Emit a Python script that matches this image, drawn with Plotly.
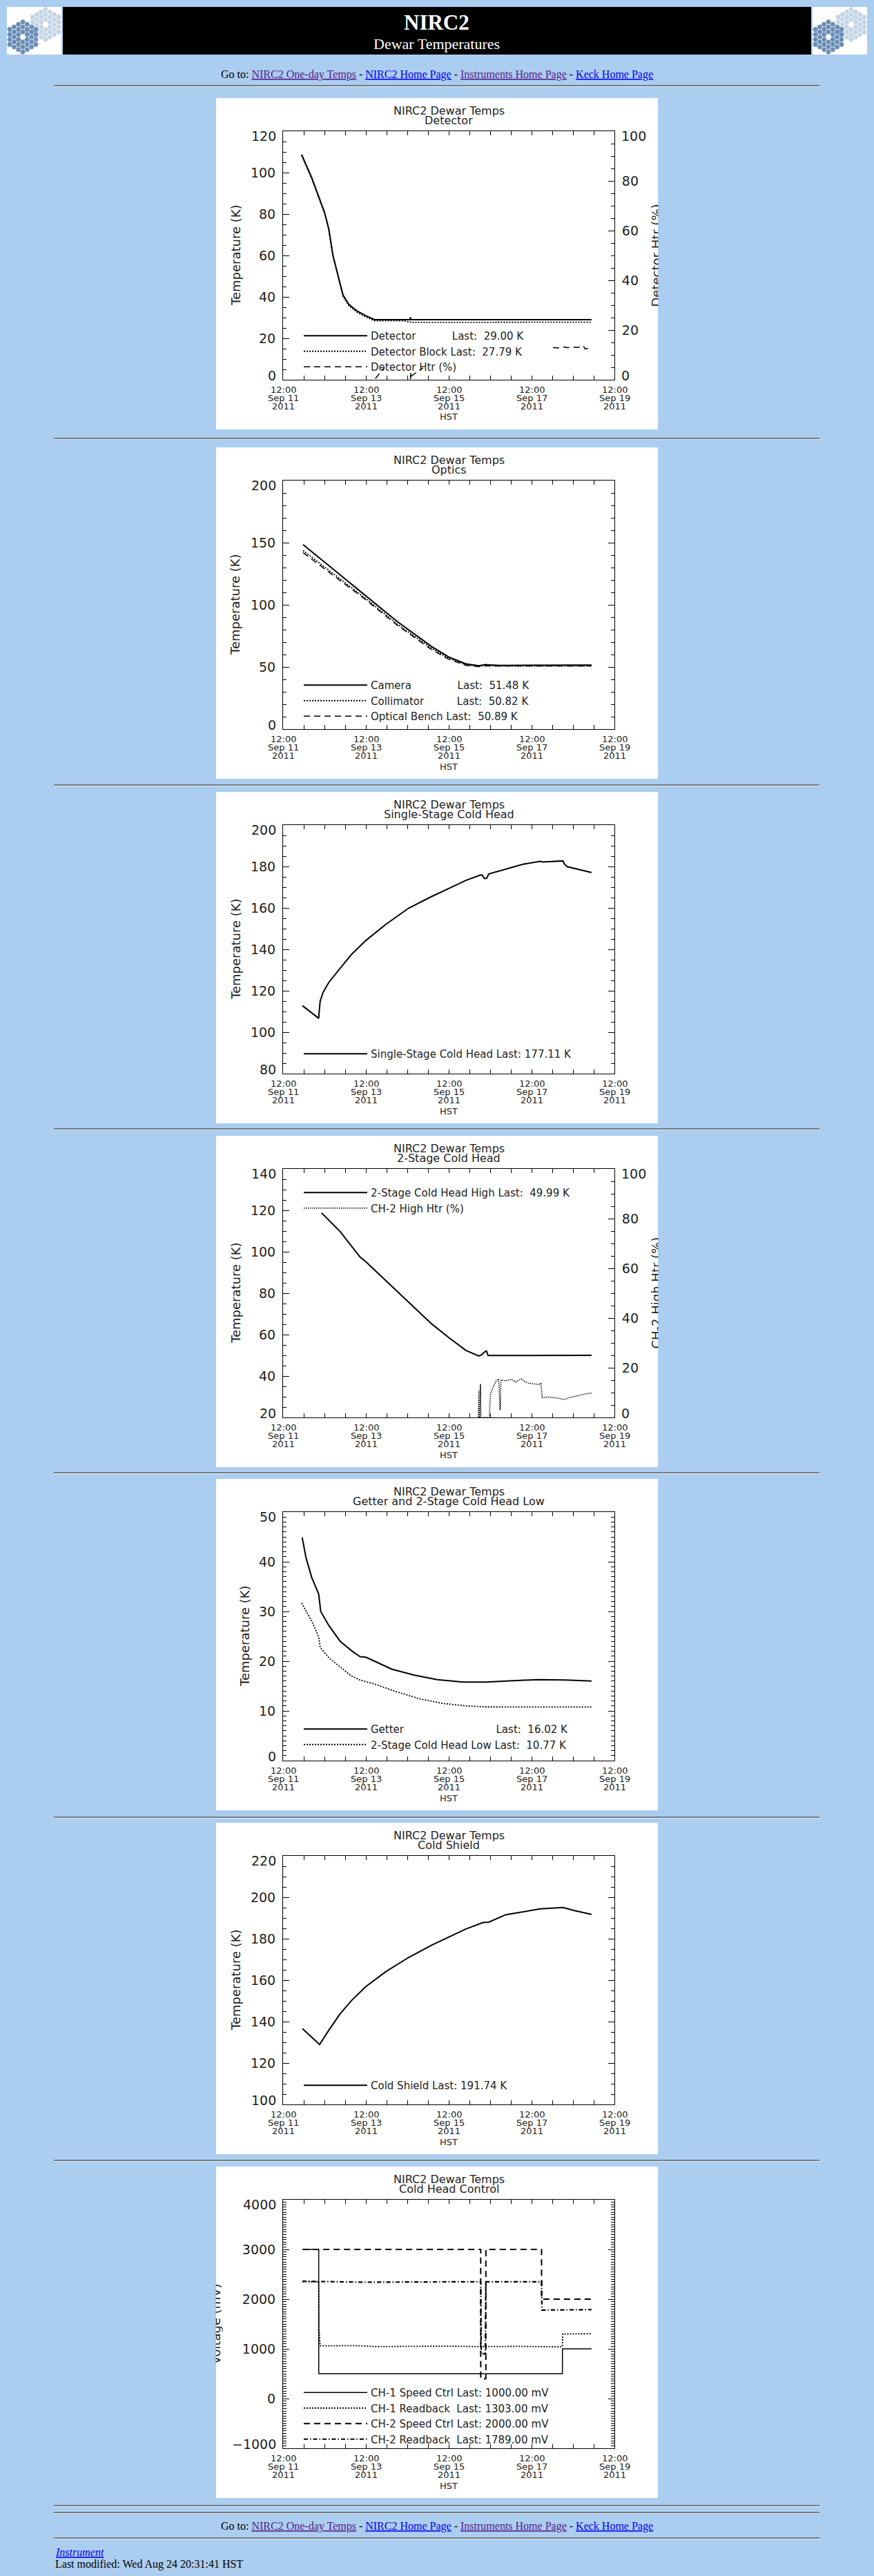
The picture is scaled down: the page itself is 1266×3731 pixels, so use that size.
import math
import plotly.graph_objects as go

W, H = 1266, 3731
BG = "#ABCDEF"
FONT = "DejaVu Sans"
SERIF = "Liberation Serif"
TXT = "#222222"
NB = "\u00a0"

def px(x):
    return x / W

def py(y):
    return 1 - y / H

# ---------------- data ----------------
X_RANGE = ["2011-09-11 12:00", "2011-09-19 12:00"]
XTICK_VALS = ["2011-09-11 12:00", "2011-09-12 00:00", "2011-09-12 12:00", "2011-09-13 00:00",
              "2011-09-13 12:00", "2011-09-14 00:00", "2011-09-14 12:00", "2011-09-15 00:00",
              "2011-09-15 12:00", "2011-09-16 00:00", "2011-09-16 12:00", "2011-09-17 00:00",
              "2011-09-17 12:00", "2011-09-18 00:00", "2011-09-18 12:00", "2011-09-19 00:00",
              "2011-09-19 12:00"]
XLABEL_DATES = ["2011-09-11 12:00", "2011-09-13 12:00", "2011-09-15 12:00",
                "2011-09-17 12:00", "2011-09-19 12:00"]
XLABEL_TIME = ["12:00", "12:00", "12:00", "12:00", "12:00"]
XLABEL_DAY = ["Sep 11", "Sep 13", "Sep 15", "Sep 17", "Sep 19"]
XLABEL_YEAR = ["2011", "2011", "2011", "2011", "2011"]

# y tick values per panel (left axes), and the right heater axes
Y_TICKS = [[0, 20, 40, 60, 80, 100, 120],
           [0, 50, 100, 150, 200],
           [80, 100, 120, 140, 160, 180, 200],
           [20, 40, 60, 80, 100, 120, 140],
           [0, 10, 20, 30, 40, 50],
           [100, 120, 140, 160, 180, 200, 220],
           [-1000, 0, 1000, 2000, 3000, 4000]]
Y_MINOR = [5, 10, 5, 5, 1, 5, 50]
HTR_TICKS = [0, 20, 40, 60, 80, 100]

# Panel 1: Detector
DET_TIME = ["2011-09-11 22:45", "2011-09-12 04:33", "2011-09-12 12:00", "2011-09-12 14:29",
            "2011-09-12 16:58", "2011-09-12 22:45",
            "2011-09-13 02:04", "2011-09-13 07:02", "2011-09-13 12:00", "2011-09-13 17:00",
            "2011-09-14 13:30", "2011-09-14 13:50", "2011-09-14 14:10", "2011-09-18 22:45"]
DET_TEMP = [108.7, 97.7, 80.9, 72.9, 59.8, 40.9, 36.4, 33.1, 30.9, 29.0, 29.0, 30.2, 29.0, 29.0]
BLK_TIME = ["2011-09-11 22:45", "2011-09-12 04:33", "2011-09-12 12:00", "2011-09-12 14:29",
            "2011-09-12 16:58", "2011-09-12 22:45",
            "2011-09-13 02:04", "2011-09-13 07:02", "2011-09-13 12:00", "2011-09-13 17:00",
            "2011-09-14 09:30", "2011-09-14 14:30", "2011-09-18 22:45"]
BLK_TEMP = [108.3, 97.2, 80.4, 72.4, 59.3, 40.3, 35.8, 32.5, 30.3, 28.5, 28.5, 27.7, 27.79]
DHTR_TIME = ["2011-09-13 17:30", "2011-09-13 22:45", None,
             "2011-09-14 13:50", "2011-09-14 14:00", "2011-09-14 14:20", "2011-09-14 21:06", None,
             "2011-09-18 00:24", "2011-09-18 03:00", "2011-09-18 06:00", "2011-09-18 09:00",
             "2011-09-18 12:00", "2011-09-18 15:00", "2011-09-18 18:00", "2011-09-18 19:00",
             "2011-09-18 22:45"]
DHTR_PCT = [0.5, 4.8, None, 0.2, 3.0, 1.5, 4.8, None,
            13.0, 12.8, 13.2, 12.9, 13.1, 13.0, 13.6, 12.4, 12.9]

# Panel 2: Optics
OPT_TIME = ["2011-09-11 23:35", "2011-09-12 12:00", "2011-09-12 21:06", "2011-09-13 12:00",
            "2011-09-14 06:12", "2011-09-15 02:04", "2011-09-15 12:00", "2011-09-15 21:56",
            "2011-09-16 05:23", "2011-09-16 07:52", "2011-09-16 09:31", "2011-09-16 11:10",
            "2011-09-16 17:47", "2011-09-18 22:45"]
CAMERA = [148.5, 134.4, 124.5, 107.2, 86.5, 66.5, 58.0, 52.5, 51.0, 51.6, 52.0, 51.6, 51.3, 51.48]
COLLIM = [143.7, 130.5, 121.0, 105.0, 84.5, 65.0, 57.0, 51.8, 50.5, 50.9, 51.2, 50.9, 50.8, 50.82]
BENCH = [142.0, 129.0, 119.5, 104.0, 83.5, 64.0, 56.2, 51.3, 50.3, 50.8, 51.0, 50.8, 50.9, 50.89]

# Panel 3: Single-stage cold head
SS_TIME = ["2011-09-11 23:15", "2011-09-12 08:40", "2011-09-12 09:00", "2011-09-12 09:31",
           "2011-09-12 11:10", "2011-09-12 14:29", "2011-09-12 21:06", "2011-09-13 03:43",
           "2011-09-13 12:00", "2011-09-13 23:35", "2011-09-14 12:50", "2011-09-15 02:04",
           "2011-09-15 12:00", "2011-09-15 21:56", "2011-09-16 06:12", "2011-09-16 07:20",
           "2011-09-16 08:41", "2011-09-16 10:00", "2011-09-16 11:10", "2011-09-16 21:06",
           "2011-09-17 07:02", "2011-09-17 16:58", "2011-09-17 18:37", "2011-09-18 06:12",
           "2011-09-18 07:01", "2011-09-18 08:41", "2011-09-18 22:45"]
SS_TEMP = [112.8, 106.7, 110.5, 115.0, 119.2, 124.0, 130.9, 137.6, 144.3, 152.1, 159.9, 165.5,
           169.4, 173.3, 175.8, 175.9, 174.2, 174.3, 176.4, 178.8, 181.1, 182.5, 182.2, 182.7,
           181.2, 179.9, 177.11]

# Panel 4: 2-stage cold head
CH2H_TIME = ["2011-09-12 10:20", "2011-09-12 21:06", "2011-09-13 08:41", "2011-09-13 12:00",
             "2011-09-14 06:12", "2011-09-15 02:04", "2011-09-15 12:00", "2011-09-15 21:56",
             "2011-09-16 05:23", "2011-09-16 07:02", "2011-09-16 08:41", "2011-09-16 09:50",
             "2011-09-16 10:50", "2011-09-18 22:45"]
CH2H_TEMP = [118.8, 109.7, 97.4, 95.2, 80.8, 65.2, 58.6, 52.4, 49.7, 50.2, 51.6, 52.1, 49.9, 49.99]
CH2HTR_TIME = ["2011-09-16 05:06", "2011-09-16 05:30", "2011-09-16 05:36", "2011-09-16 06:05",
               "2011-09-16 06:22", "2011-09-16 06:42", "2011-09-16 11:30", "2011-09-16 12:10",
               "2011-09-16 13:38", "2011-09-16 15:17", "2011-09-16 16:56", "2011-09-16 17:47",
               "2011-09-16 18:17", "2011-09-16 21:06", "2011-09-17 00:25", "2011-09-17 02:53",
               "2011-09-17 04:33", "2011-09-17 06:12", "2011-09-17 07:51", "2011-09-17 10:20",
               "2011-09-17 13:38", "2011-09-17 16:58", "2011-09-17 17:28", "2011-09-17 18:08",
               "2011-09-17 21:56", "2011-09-18 02:54", "2011-09-18 07:01", "2011-09-18 09:31",
               "2011-09-18 14:29", "2011-09-18 19:26", "2011-09-18 22:45"]
CH2HTR_PCT = [0, 11.0, 0, 0, 13.5, 0, 0, 9.5, 12.0, 14.5, 15.5, 3.0, 15.0, 14.8, 15.3, 14.2,
              15.0, 15.5, 14.5, 13.8, 13.5, 13.3, 14.0, 8.0, 8.2, 7.8, 7.2, 7.9, 8.7, 9.5, 9.8]

# Panel 5: Getter and 2-stage cold head low
GET_TIME = ["2011-09-11 23:05", "2011-09-12 01:15", "2011-09-12 04:33", "2011-09-12 08:40",
            "2011-09-12 09:50", "2011-09-12 14:29", "2011-09-12 21:06", "2011-09-13 03:43",
            "2011-09-13 08:41", "2011-09-13 12:00", "2011-09-13 17:00", "2011-09-14 02:54",
            "2011-09-14 16:08", "2011-09-15 05:22", "2011-09-15 20:17", "2011-09-16 09:31",
            "2011-09-17 03:43", "2011-09-17 15:18", "2011-09-18 07:51", "2011-09-18 22:45"]
GET_TEMP = [44.9, 40.9, 36.9, 33.5, 30.0, 27.2, 24.0, 22.1, 20.9, 20.8, 20.0, 18.4, 17.2, 16.3,
            15.8, 15.8, 16.1, 16.3, 16.2, 16.02]
CH2L_TIME = ["2011-09-11 22:45", "2011-09-12 04:33", "2011-09-12 08:40", "2011-09-12 09:31",
             "2011-09-12 14:29", "2011-09-12 21:06", "2011-09-13 03:43", "2011-09-13 08:41",
             "2011-09-13 17:00", "2011-09-14 06:12", "2011-09-14 19:26", "2011-09-15 08:41",
             "2011-09-15 21:56", "2011-09-16 09:31", "2011-09-18 22:45"]
CH2L_TEMP = [31.7, 28.1, 24.9, 22.8, 20.7, 18.9, 17.0, 16.2, 15.4, 13.8, 12.4, 11.5, 11.0, 10.8, 10.77]

# Panel 6: Cold shield
CS_TIME = ["2011-09-11 23:15", "2011-09-12 09:11", "2011-09-12 14:29", "2011-09-12 21:06",
           "2011-09-13 03:43", "2011-09-13 12:00", "2011-09-13 23:35", "2011-09-14 12:50",
           "2011-09-15 02:04", "2011-09-15 12:00", "2011-09-15 21:56", "2011-09-16 07:52",
           "2011-09-16 11:10", "2011-09-16 21:06", "2011-09-17 07:02", "2011-09-17 16:58",
           "2011-09-18 06:12", "2011-09-18 12:50", "2011-09-18 22:45"]
CS_TEMP = [136.6, 128.9, 135.8, 143.8, 150.2, 156.9, 164.1, 171.0, 176.9, 180.8, 184.7, 187.8,
           188.0, 191.6, 193.0, 194.4, 195.1, 193.6, 191.74]

# Panel 7: Cold head control
CH1S_TIME = ["2011-09-11 23:15", "2011-09-12 08:40", "2011-09-12 08:41", "2011-09-18 05:52",
             "2011-09-18 05:53", "2011-09-18 22:45"]
CH1S_MV = [3000, 3000, 500, 500, 1000, 1000]
CH1R_TIME = ["2011-09-11 23:15", "2011-09-12 08:40", "2011-09-12 08:50", "2011-09-12 09:30",
             "2011-09-13 06:00", "2011-09-13 18:00", "2011-09-14 12:00", "2011-09-15 12:00",
             "2011-09-16 06:00", "2011-09-17 06:00", "2011-09-18 05:00", "2011-09-18 05:52",
             "2011-09-18 06:00", "2011-09-18 22:45"]
CH1R_MV = [2350, 2350, 1380, 1060, 1065, 1045, 1050, 1055, 1045, 1050, 1040, 1050, 1300, 1303]
CH2S_TIME = ["2011-09-11 23:15", "2011-09-16 06:32", "2011-09-16 06:33", "2011-09-16 09:30",
             "2011-09-16 09:31", "2011-09-17 17:47", "2011-09-17 17:48", "2011-09-18 22:45"]
CH2S_MV = [3000, 3000, 400, 400, 3000, 3000, 2000, 2000]
CH2R_TIME = ["2011-09-11 23:15", "2011-09-12 12:00", "2011-09-13 12:00", "2011-09-14 12:00",
             "2011-09-15 12:00", "2011-09-16 06:32", "2011-09-16 06:50", "2011-09-16 09:10",
             "2011-09-16 09:31", "2011-09-17 00:00", "2011-09-17 17:47", "2011-09-17 18:00",
             "2011-09-18 22:45"]
CH2R_MV = [2360, 2355, 2340, 2345, 2350, 2350, 900, 900, 2350, 2350, 2350, 1780, 1789]

TITLES = ["Detector", "Optics", "Single-Stage Cold Head", "2-Stage Cold Head",
          "Getter and 2-Stage Cold Head Low", "Cold Shield", "Cold Head Control"]

# ---------------- geometry ----------------
PANEL_TOPS = [142, 648, 1147, 1645, 2142, 2640, 3138]
IMG_X0, IMG_X1 = 313, 953
PX0, PX1 = 410, 890
PY0, PY1 = 48, 408
LEG_TOPS = [470, 976, 1510, 1711, 2488, 3004, 3449]
YTITLE_X = [341, 341, 341, 341, 354, 341, None]

SOLID = dict(color="black", width=2)
DOT = dict(color="black", width=1.8, dash="2px,2px")
DASH = dict(color="black", width=1.5, dash="9px,6px")
DASHDOT = dict(color="black", width=2.2, dash="6px,3px,1.5px,3px")

fig = go.Figure()

def ax(i):
    return ("" if i == 1 else str(i))

def add(i, x, y, name, line, yref=None):
    fig.add_trace(go.Scatter(
        x=x, y=y, mode="lines", name=name, line=line,
        xaxis="x" + ax(i), yaxis=yref or ("y" + ax(i)),
        legend="legend" + ax(i), connectgaps=False, hoverinfo="skip"))

add(1, DET_TIME, DET_TEMP, "Detector" + NB * 11 + "Last:" + NB * 2 + "29.00 K", SOLID)
add(1, BLK_TIME, BLK_TEMP, "Detector Block" + NB + "Last:" + NB * 2 + "27.79 K", DOT)
add(1, DHTR_TIME, DHTR_PCT, "Detector Htr (%)", DASH, yref="y8")

add(2, OPT_TIME, CAMERA, "Camera" + NB * 14 + "Last:" + NB * 2 + "51.48 K", SOLID)
add(2, OPT_TIME, COLLIM, "Collimator" + NB * 10 + "Last:" + NB * 2 + "50.82 K", DOT)
add(2, OPT_TIME, BENCH, "Optical Bench" + NB + "Last:" + NB * 2 + "50.89 K", DASH)

add(3, SS_TIME, SS_TEMP, "Single-Stage Cold Head Last: 177.11 K", SOLID)

add(4, CH2H_TIME, CH2H_TEMP, "2-Stage Cold Head High Last:" + NB * 2 + "49.99 K", SOLID)
add(4, CH2HTR_TIME, CH2HTR_PCT, "CH-2 High Htr (%)", dict(color="black", width=1.5, dash="1.5px,1.5px"), yref="y9")

add(5, GET_TIME, GET_TEMP, "Getter" + NB * 28 + "Last:" + NB * 2 + "16.02 K", SOLID)
add(5, CH2L_TIME, CH2L_TEMP, "2-Stage Cold Head Low Last:" + NB * 2 + "10.77 K", DOT)

add(6, CS_TIME, CS_TEMP, "Cold Shield Last: 191.74 K", SOLID)

add(7, CH1S_TIME, CH1S_MV, "CH-1 Speed Ctrl Last: 1000.00 mV", dict(color="black", width=1.5))
add(7, CH1R_TIME, CH1R_MV, "CH-1 Readback" + NB * 2 + "Last: 1303.00 mV", DOT)
add(7, CH2S_TIME, CH2S_MV, "CH-2 Speed Ctrl Last: 2000.00 mV", dict(color="black", width=2, dash="9px,6px"))
add(7, CH2R_TIME, CH2R_MV, "CH-2 Readback" + NB * 2 + "Last: 1789.00 mV", DASHDOT)

layout = dict(
    width=W, height=H, margin=dict(l=0, r=0, t=0, b=0, pad=0),
    paper_bgcolor=BG, plot_bgcolor="rgba(0,0,0,0)",
    showlegend=True, font=dict(family=FONT, color=TXT),
)

shapes = []
annotations = []

def fmt(v):
    return ("\u2212" + str(-v)) if v < 0 else str(v)

def y_axis(ticks, minor, yname, xname, side="left", mirror="ticks", domain=None, overlay=None):
    # interior labels drawn by the axis; the two end labels are nudged inward (as in IDL)
    text = [""] + [fmt(v) for v in ticks[1:-1]] + [""]
    d = dict(range=[ticks[0], ticks[-1]], tickmode="array", tickvals=ticks, ticktext=text,
             ticks="inside", ticklen=9, tickwidth=1, tickcolor="black",
             showline=True, linecolor="black", linewidth=1, mirror=mirror,
             showgrid=False, zeroline=False, fixedrange=True, side=side,
             tickfont=dict(family=FONT, size=19, color=TXT), ticklabelstandoff=6,
             minor=dict(dtick=minor, tick0=ticks[0], tickmode="linear", ticks="inside",
                        ticklen=5, tickwidth=1, tickcolor="black", showgrid=False),
             anchor=xname)
    if domain is not None:
        d["domain"] = domain
    if overlay:
        d["overlaying"] = overlay
    xpos = px(402) if side == "left" else px(898)
    xa = "right" if side == "left" else "left"
    for v, shift in ((ticks[0], 6), (ticks[-1], -7)):
        annotations.append(dict(text=fmt(v), x=xpos, xref="paper", y=v, yref=yname,
                                yshift=shift, showarrow=False, xanchor=xa, yanchor="middle",
                                font=dict(family=FONT, size=19, color=TXT)))
    return d

for k in range(7):
    i = k + 1
    top = PANEL_TOPS[k]
    ydom = [py(top + PY1), py(top + PY0)]
    layout["xaxis" + ax(i)] = dict(
        domain=[px(PX0), px(PX1)], anchor="y" + ax(i), type="date", range=X_RANGE,
        tickmode="array", tickvals=XTICK_VALS, showticklabels=False,
        ticks="inside", ticklen=6, tickwidth=1, tickcolor="black",
        showline=True, linecolor="black", linewidth=1, mirror="ticks",
        showgrid=False, zeroline=False, fixedrange=True)
    has_right = i in (1, 4)
    layout["yaxis" + ax(i)] = y_axis(Y_TICKS[k], Y_MINOR[k], "y" + ax(i), "x" + ax(i),
                                     mirror=(False if has_right else "ticks"), domain=ydom)
    # date tick labels: three tight lines under each labelled tick
    for d, t1, t2, t3 in zip(XLABEL_DATES, XLABEL_TIME, XLABEL_DAY, XLABEL_YEAR):
        for j, t in enumerate((t1, t2, t3)):
            annotations.append(dict(text=t, x=d, xref="x" + ax(i), y=py(top + 422.5 + 12 * j),
                                    yref="paper", showarrow=False,
                                    font=dict(family=FONT, size=13, color=TXT),
                                    xanchor="center", yanchor="middle"))
    # white image box
    shapes.append(dict(type="rect", xref="paper", yref="paper", layer="below",
                       x0=px(IMG_X0), x1=px(IMG_X1), y0=py(top + 480), y1=py(top),
                       fillcolor="white", line=dict(width=0)))
    cx = px((PX0 + PX1) / 2)
    annotations.append(dict(text="NIRC2 Dewar Temps", x=cx, y=py(top + 18.5), xref="paper", yref="paper",
                            showarrow=False, font=dict(family=FONT, size=16, color=TXT),
                            xanchor="center", yanchor="middle"))
    annotations.append(dict(text=TITLES[k], x=cx, y=py(top + 32.5), xref="paper", yref="paper",
                            showarrow=False, font=dict(family=FONT, size=16, color=TXT),
                            xanchor="center", yanchor="middle"))
    annotations.append(dict(text="HST", x=cx, y=py(top + 462), xref="paper", yref="paper",
                            showarrow=False, font=dict(family=FONT, size=13, color=TXT),
                            xanchor="center", yanchor="middle"))
    if YTITLE_X[k] is not None:
        annotations.append(dict(text="Temperature (K)", textangle=-90, x=px(YTITLE_X[k]),
                                y=py(top + (PY0 + PY1) / 2), xref="paper", yref="paper",
                                showarrow=False, font=dict(family=FONT, size=18, color=TXT),
                                xanchor="center", yanchor="middle"))
    layout["legend" + ax(i)] = dict(
        x=px(435), y=py(LEG_TOPS[k]), xanchor="left", yanchor="top",
        bgcolor="rgba(0,0,0,0)", borderwidth=0, itemwidth=92, tracegroupgap=0,
        traceorder="normal", font=dict(family=FONT, size=15, color=TXT))

# right axes
layout["yaxis8"] = y_axis(HTR_TICKS, 5, "y8", "x", side="right", mirror=False, overlay="y")
layout["yaxis9"] = y_axis(HTR_TICKS, 5, "y9", "x4", side="right", mirror=False, overlay="y4")

# clipped axis titles (clipped by the image edges in the original)
annotations.append(dict(text="Detector Htr (%)", textangle=-90, x=px(946.5),
                        y=py(PANEL_TOPS[0] + 228), xref="paper", yref="paper", showarrow=False,
                        font=dict(family=FONT, size=18, color=TXT), height=14, valign="top",
                        xanchor="center", yanchor="middle"))
annotations.append(dict(text="CH-2 High Htr (%)", textangle=-90, x=px(946.5),
                        y=py(PANEL_TOPS[3] + 228), xref="paper", yref="paper", showarrow=False,
                        font=dict(family=FONT, size=18, color=TXT), height=14, valign="top",
                        xanchor="center", yanchor="middle"))
annotations.append(dict(text="Voltage (mV)", textangle=-90, x=px(317.5),
                        y=py(PANEL_TOPS[6] + 228), xref="paper", yref="paper", showarrow=False,
                        font=dict(family=FONT, size=18, color=TXT), height=10, valign="bottom",
                        xanchor="center", yanchor="middle"))

# ---------------- page header / footer ----------------
shapes.append(dict(type="rect", xref="paper", yref="paper", layer="below",
                   x0=px(10), x1=px(89), y0=py(79), y1=py(10), fillcolor="white", line=dict(width=0)))
shapes.append(dict(type="rect", xref="paper", yref="paper", layer="below",
                   x0=px(1177), x1=px(1256), y0=py(79), y1=py(10), fillcolor="white", line=dict(width=0)))
shapes.append(dict(type="rect", xref="paper", yref="paper", layer="below",
                   x0=px(91), x1=px(1175), y0=py(79), y1=py(10), fillcolor="black", line=dict(width=0)))

annotations.append(dict(text="<b>NIRC2</b>", x=px(632), y=py(33), xref="paper", yref="paper",
                        showarrow=False, font=dict(family=SERIF, size=31, color="white"),
                        xanchor="center", yanchor="middle"))
annotations.append(dict(text="Dewar Temperatures", x=px(632), y=py(63), xref="paper", yref="paper",
                        showarrow=False, font=dict(family=SERIF, size=22, color="white"),
                        xanchor="center", yanchor="middle"))

VISITED = "#551A8B"
LINK = "#0000EE"

def link(t, c):
    return '<span style="color:%s;text-decoration:underline">%s</span>' % (c, t)

GOTO = ("Go to: " + link("NIRC2 One-day Temps", VISITED) + " - " + link("NIRC2 Home Page", LINK)
        + " - " + link("Instruments Home Page", VISITED) + " - " + link("Keck Home Page", LINK))
for yy in (108, 3659):
    annotations.append(dict(text=GOTO, x=px(633), y=py(yy), xref="paper", yref="paper",
                            showarrow=False, font=dict(family=SERIF, size=16, color="black"),
                            xanchor="center", yanchor="middle"))

annotations.append(dict(text='<i><span style="text-decoration:underline">Instrument</span></i>',
                        x=px(78), y=py(3696), xref="paper", yref="paper", showarrow=False,
                        font=dict(family=SERIF, size=16, color=LINK), xanchor="left", yanchor="middle"))
annotations.append(dict(text="Last modified: Wed Aug 24 20:31:41 HST",
                        x=px(78), y=py(3714), xref="paper", yref="paper", showarrow=False,
                        font=dict(family=SERIF, size=16, color="black"), xanchor="left", yanchor="middle"))

for yy in (124, 635, 1137, 1635, 2133, 2632, 3129, 3629, 3639, 3676):
    shapes.append(dict(type="line", xref="paper", yref="paper", layer="below",
                       x0=px(78), x1=px(1187), y0=py(yy), y1=py(yy),
                       line=dict(color="#606060", width=1.5)))
    shapes.append(dict(type="line", xref="paper", yref="paper", layer="below",
                       x0=px(78), x1=px(1187), y0=py(yy + 1.5), y1=py(yy + 1.5),
                       line=dict(color="#E4EEF8", width=1)))

# Keck segmented-mirror logos (decoration) on a pixel-space overlay axis
layout["xaxis10"] = dict(domain=[0, 1], range=[0, W], visible=False, anchor="y10", fixedrange=True)
layout["yaxis10"] = dict(domain=[py(90), 1], range=[90, 0], visible=False, anchor="x10", fixedrange=True)

def mirror_cells(cx, cy, R):
    xs, ys = [], []
    for q in range(-3, 4):
        for r in range(-3, 4):
            s = -q - r
            d = max(abs(q), abs(r), abs(s))
            if 1 <= d <= 3:
                xs.append(cx + 1.5 * R * q)
                ys.append(cy + math.sqrt(3) * R * (r + q / 2))
    return xs, ys

for off in (0, 1167):
    for (ccx, ccy, col) in ((66 + off, 35.5, "#C6D5E6"), (33 + off, 53.5, "#6A8DB6")):
        xs, ys = mirror_cells(ccx, ccy, 4.2)
        fig.add_trace(go.Scatter(x=xs, y=ys, mode="markers", xaxis="x10", yaxis="y10",
                                 showlegend=False, hoverinfo="skip",
                                 marker=dict(symbol="hexagon2", size=7.6, color=col,
                                             line=dict(width=0))))

layout["shapes"] = shapes
layout["annotations"] = annotations
fig.update_layout(**layout)

fig.write_html("out.html", include_plotlyjs=True, full_html=True,
               config={"displayModeBar": False, "staticPlot": True},
               post_script="document.body.style.margin='0';document.body.style.padding='0';"
                           "document.body.style.overflow='hidden';document.body.style.background='" + BG + "';")
